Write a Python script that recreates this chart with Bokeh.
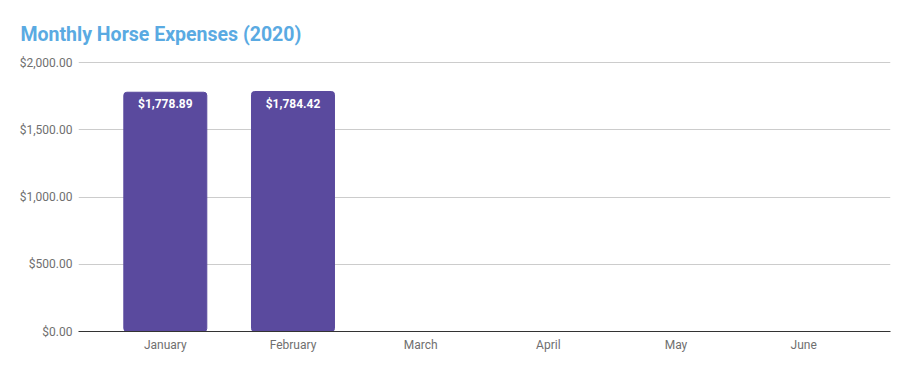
from bokeh.plotting import figure
from bokeh.models import ColumnDataSource, FixedTicker, NumeralTickFormatter, Range1d
from bokeh.core.properties import value
from bokeh.embed import file_html
from bokeh.resources import INLINE

months = ["January", "February", "March", "April", "May", "June"]
expense_months = ["January", "February"]
expenses = [1778.89, 1784.42]
y_ticks = [0, 500, 1000, 1500, 2000]

xpos = [months.index(m) for m in expense_months]
labels = ["${:,.2f}".format(v) for v in expenses]
src = ColumnDataSource(dict(x=xpos, top=expenses, label=labels))

p = figure(width=901, height=363, output_backend="svg", toolbar_location=None,
           x_range=Range1d(-0.68, len(months) - 1 + 0.68), y_range=Range1d(0, 2007.5),
           min_border_left=78, min_border_right=11, min_border_top=61, min_border_bottom=32)

p.title.text = "Monthly Horse Expenses (2020)"
p.title.text_font = "Roboto"
p.title.text_font_size = "19.5px"
p.title.text_font_style = "bold"
p.title.text_color = "#5AAAE2"
p.title.align = "left"
p.title.offset = -58
p.title.standoff = 31

p.vbar(x="x", top="top", width=0.65, source=src, color="#5A4A9E", border_radius=3)
p.text(x="x", y="top", text="label", source=src, text_color="white",
       text_font=value("Roboto"), text_font_size="12px", text_font_style="bold",
       text_align="center", text_baseline="top", y_offset=5)

p.xaxis.ticker = FixedTicker(ticks=list(range(len(months))))
p.xaxis.major_label_overrides = {i: m for i, m in enumerate(months)}
p.yaxis.ticker = FixedTicker(ticks=y_ticks)
p.yaxis.formatter = NumeralTickFormatter(format="$0,0.00")

for ax in (p.xaxis, p.yaxis):
    ax.major_tick_line_color = None
    ax.minor_tick_line_color = None
    ax.major_tick_out = 0
    ax.major_tick_in = 0
    ax.minor_tick_out = 0
    ax.major_label_text_font = "Roboto"
    ax.major_label_text_font_size = "12px"
    ax.major_label_text_color = "#6F6F6F"
p.yaxis.axis_line_color = None
p.xaxis.axis_line_color = "#333333"
p.xaxis.axis_line_width = 1
p.xaxis.major_label_standoff = 6
p.yaxis.major_label_standoff = 6

p.xgrid.grid_line_color = None
p.ygrid.grid_line_color = "#CCCCCC"
p.outline_line_color = None

open("out.html", "w").write(file_html(p, INLINE))
